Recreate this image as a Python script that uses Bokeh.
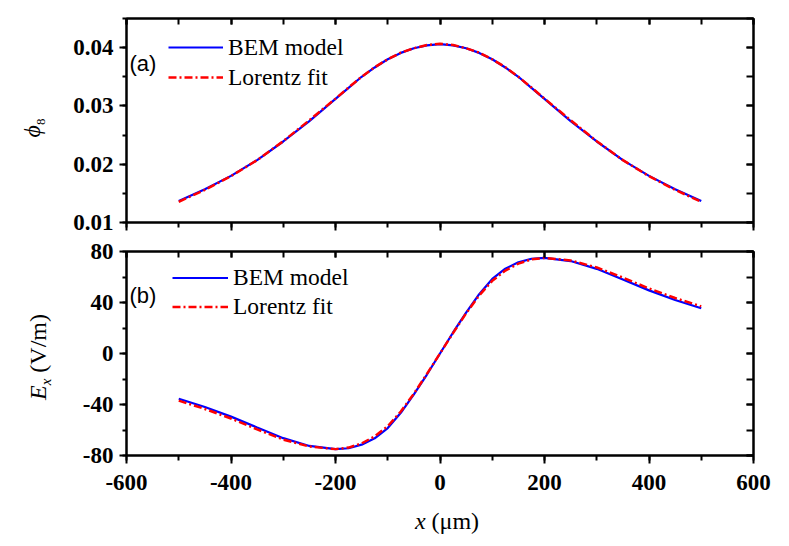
from bokeh.plotting import figure
from bokeh.models import (LinearAxis, SingleIntervalTicker, Legend, LegendItem, Label, Div,
                          CustomJSTickFormatter)
from bokeh.layouts import column, row
from bokeh.embed import file_html
from bokeh.resources import INLINE

# ---------------- data ----------------
x_um = [-500, -450, -400, -350, -300, -250, -200, -175, -150, -125, -100, -75, -50, -25, 0,
        25, 50, 75, 100, 125, 150, 175, 200, 250, 300, 350, 400, 450, 500]

phi_bem = [0.01370, 0.01570, 0.01800, 0.02070, 0.02390, 0.02740, 0.03120, 0.03310, 0.03500,
           0.03660, 0.03800, 0.03910, 0.03990, 0.04040, 0.04060,
           0.04040, 0.03990, 0.03910, 0.03800, 0.03660, 0.03500, 0.03310, 0.03120,
           0.02740, 0.02390, 0.02070, 0.01800, 0.01570, 0.01370]
phi_fit = [0.01355, 0.01560, 0.01795, 0.02070, 0.02395, 0.02755, 0.03125, 0.03315, 0.03500,
           0.03665, 0.03800, 0.03915, 0.03990, 0.04045, 0.04065,
           0.04045, 0.03990, 0.03915, 0.03800, 0.03665, 0.03500, 0.03315, 0.03125,
           0.02755, 0.02395, 0.02070, 0.01795, 0.01560, 0.01355]

ex_bem = [-35.5, -42.0, -49.5, -58.0, -66.4, -72.5, -75.0, -74.3, -71.5, -66.5, -58.5, -46.5, -32.0, -16.5, 0.0,
          16.5, 32.0, 46.5, 58.5, 66.5, 71.5, 74.3, 75.0, 72.5, 66.4, 58.0, 49.5, 42.0, 35.5]
ex_fit = [-37.0, -43.5, -51.0, -59.5, -67.5, -73.0, -75.0, -73.8, -70.5, -65.0, -57.0, -45.5, -31.5, -16.0, 0.0,
          16.0, 31.5, 45.5, 57.0, 65.0, 70.5, 73.8, 75.0, 73.0, 67.5, 59.5, 51.0, 43.5, 37.0]

legend_labels = ["BEM model", "Lorentz fit"]
panel_labels = ["(a)", "(b)"]

# ---------------- style ----------------
SERIF = "Liberation Serif"
SANS = "Liberation Sans"
LEFT_W = 60
W = 721
BLUE = "#0000FF"
RED = "#FF0000"

fmt_int = "return Math.round(tick).toString();"
fmt_dec = "return (Math.round(tick*1000)/1000).toString();"


def hide_labels(ax):
    ax.major_label_standoff = 0
    ax.major_label_text_font_size = "1px"
    ax.major_label_text_color = None


def style_axes(p, y_interval, y_fmt, show_x_labels):
    p.xgrid.visible = False
    p.ygrid.visible = False
    p.outline_line_color = "black"
    p.outline_line_width = 2
    la = p.yaxis[0]
    la.ticker = SingleIntervalTicker(interval=y_interval, num_minor_ticks=2)
    la.formatter = CustomJSTickFormatter(code=y_fmt)
    la.axis_line_width = 2
    la.major_tick_line_width = 2
    la.minor_tick_line_width = 2
    la.major_tick_out = 7
    la.major_tick_in = 0
    la.minor_tick_out = 4
    la.minor_tick_in = 0
    la.major_label_standoff = 6
    la.major_label_text_font = SERIF
    la.major_label_text_font_style = "bold"
    la.major_label_text_font_size = "23px"
    la.major_label_text_color = "black"
    ba = p.xaxis[0]
    ba.ticker = SingleIntervalTicker(interval=200, num_minor_ticks=2)
    ba.formatter = CustomJSTickFormatter(code=fmt_int)
    ba.axis_line_width = 2
    ba.major_tick_line_width = 2
    ba.minor_tick_line_width = 2
    ba.major_tick_out = 8
    ba.major_tick_in = 0
    ba.minor_tick_out = 5
    ba.minor_tick_in = 0
    if show_x_labels:
        ba.major_label_standoff = 11
        ba.major_label_text_font = SERIF
        ba.major_label_text_font_style = "bold"
        ba.major_label_text_font_size = "23px"
        ba.major_label_text_color = "black"
    else:
        hide_labels(ba)
    ra = LinearAxis(ticker=SingleIntervalTicker(interval=y_interval, num_minor_ticks=2),
                    axis_line_width=2, major_tick_line_width=2, minor_tick_line_width=2,
                    major_tick_in=7, major_tick_out=0, minor_tick_in=7, minor_tick_out=0)
    ta = LinearAxis(ticker=SingleIntervalTicker(interval=200, num_minor_ticks=2),
                    axis_line_width=2, major_tick_line_width=2, minor_tick_line_width=2,
                    major_tick_in=6, major_tick_out=0, minor_tick_in=6, minor_tick_out=0)
    hide_labels(ra)
    hide_labels(ta)
    p.add_layout(ra, "right")
    p.add_layout(ta, "above")


def make_legend(r_b, r_f, loc, h, gw):
    return Legend(items=[LegendItem(label=legend_labels[0], renderers=[r_b]),
                         LegendItem(label=legend_labels[1], renderers=[r_f])],
                  location=loc, padding=0, margin=0, spacing=0,
                  glyph_width=gw, glyph_height=h, label_height=h, label_standoff=5,
                  label_text_font=SERIF, label_text_font_size="23.5px", label_text_color="black",
                  border_line_alpha=0, background_fill_alpha=0)


# ---------------- panel (a) ----------------
p1 = figure(width=W, height=236, x_range=(-600, 600), y_range=(0.01, 0.045),
            output_backend="svg", toolbar_location=None,
            min_border_left=66, min_border_right=28, min_border_top=18, min_border_bottom=14)
style_axes(p1, 0.01, fmt_dec, False)
r1b = p1.line(x_um, phi_bem, line_color=BLUE, line_width=2.2)
r1f = p1.line(x_um, phi_fit, line_color=RED, line_width=2.5, line_dash="8 3 2 3")
p1.add_layout(make_legend(r1b, r1f, (42, 130), 30, 55))
p1.add_layout(Label(x=3, y=159, x_units="screen", y_units="screen", text=panel_labels[0],
                    text_font=SANS, text_font_size="22px", text_baseline="middle",
                    text_color="black"))

# ---------------- panel (b) ----------------
p2 = figure(width=W, height=264, x_range=(-600, 600), y_range=(-80, 80),
            output_backend="svg", toolbar_location=None,
            min_border_left=66, min_border_right=28, min_border_top=15, min_border_bottom=45)
style_axes(p2, 40, fmt_int, True)
r2b = p2.line(x_um, ex_bem, line_color=BLUE, line_width=2.2)
r2f = p2.line(x_um, ex_fit, line_color=RED, line_width=2.5, line_dash="8 3 2 3")
p2.add_layout(make_legend(r2b, r2f, (46, 134), 29, 56))
p2.add_layout(Label(x=3, y=160, x_units="screen", y_units="screen", text=panel_labels[1],
                    text_font=SANS, text_font_size="22px", text_baseline="middle",
                    text_color="black"))

# ---------------- axis titles (HTML text) ----------------
FF = "font-family:'Liberation Serif',serif;"
rot = ("position:absolute;left:{x}px;top:{y}px;transform:translate(-50%,-50%) rotate(-90deg);"
       "white-space:nowrap;line-height:1;font-size:24px;color:black;" + FF)
left_html = (
    '<div style="position:relative;width:60px;height:540px;' + FF + 'color:black;">'
    '<div style="' + rot.format(x=32, y=128) + '">'
    '<span style="' + FF + 'font-style:italic;">&#x3d5;</span>'
    '<span style="' + FF + 'font-size:13px;position:relative;top:5px;">8</span></div>'
    '<div style="' + rot.format(x=38, y=357) + '">'
    '<span style="' + FF + 'font-style:italic;">E</span>'
    '<span style="' + FF + 'font-style:italic;font-size:15px;position:relative;top:5px;">x</span>'
    '<span style="' + FF + '">&nbsp;(V/m)</span></div>'
    '</div>'
)
left_div = Div(text=left_html, width=LEFT_W, height=540, margin=0)

bottom_html = (
    '<div style="position:relative;width:721px;height:40px;' + FF + 'font-size:24px;color:black;">'
    '<div style="position:absolute;left:387px;top:21px;transform:translate(-50%,-50%);'
    'white-space:nowrap;line-height:1;' + FF + '">'
    '<span style="' + FF + 'font-style:italic;">x</span>'
    '<span style="' + FF + '">&nbsp;(&#956;m)</span></div>'
    '</div>'
)
bottom_div = Div(text=bottom_html, width=W, height=40, margin=0)

layout = row(left_div, column(p1, p2, bottom_div, spacing=0), spacing=0)
open("out.html", "w").write(file_html(layout, INLINE))
